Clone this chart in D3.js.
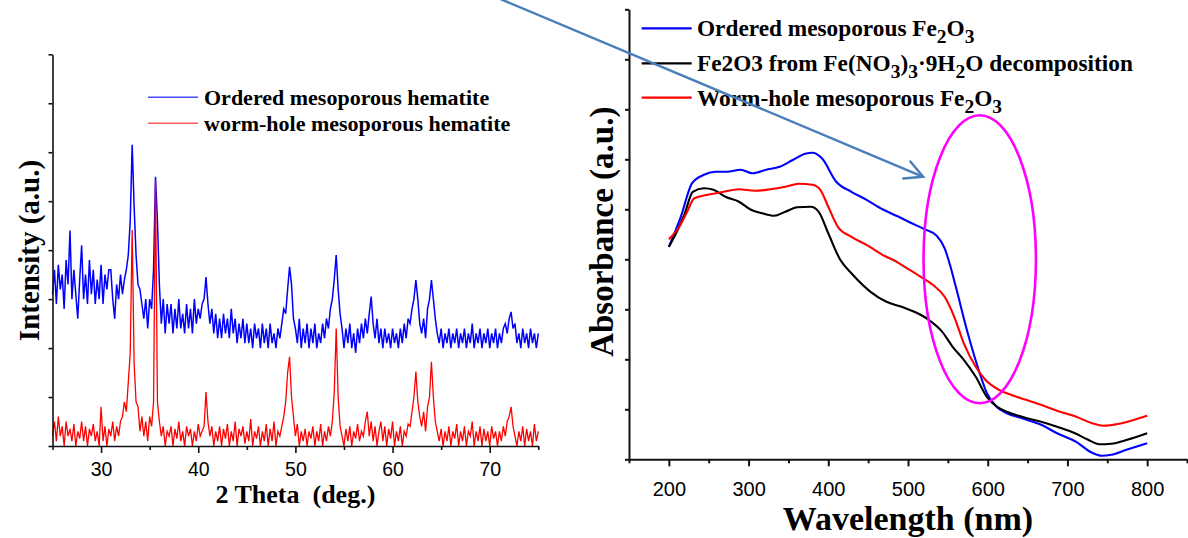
<!DOCTYPE html>
<html><head><meta charset="utf-8">
<script src="https://cdn.jsdelivr.net/npm/d3@7"></script>
<style>body{margin:0;background:#fff;} svg{display:block;}</style>
</head><body>
<svg id="chart" width="1188" height="538"></svg>
<script>
// ---------------- DATA ----------------
// XRD (left panel): 2-theta grid start/step, intensities
const xrdThetaStart = 25, xrdThetaStep = 0.2;
const xrdOrdered = [
 3.1,3.6,2.9,3.7,3.2,3.5,2.8,3.8,3.3,4.4,
 3.0,3.6,3.1,2.6,3.4,4.1,3.0,3.5,2.9,3.8,
 3.1,3.6,2.9,3.4,3.0,3.7,2.9,3.5,3.2,3.6,
 3.6,3.0,2.6,3.3,3.0,3.5,3.1,3.4,3.6,3.9,
 4.6,6.15,4.9,3.9,3.3,3.2,2.9,2.6,3.0,2.4,
 3.0,2.8,3.6,5.5,4.6,3.3,2.5,3.0,2.3,2.9,
 2.5,2.9,2.3,2.8,2.4,3.0,2.4,2.7,2.3,2.9,
 2.4,2.8,2.3,3.0,2.5,2.8,2.6,2.9,3.0,3.45,
 2.9,2.5,2.8,2.3,2.7,2.2,2.6,2.2,2.7,2.3,
 2.6,2.2,2.8,2.3,2.6,2.1,2.5,2.2,2.6,2.1,
 2.5,2.1,2.4,2.0,2.5,2.2,2.4,2.0,2.5,2.1,
 2.4,2.0,2.5,2.1,2.3,2.0,2.4,2.2,2.5,2.8,
 2.7,3.2,3.66,3.3,2.6,2.4,2.1,2.6,2.0,2.4,
 2.1,2.5,2.0,2.4,2.1,2.5,2.0,2.3,2.1,2.5,
 2.2,2.6,2.4,2.8,3.0,3.4,3.9,3.2,2.7,2.4,
 2.0,2.4,2.1,2.5,2.0,2.3,1.9,2.4,2.1,2.5,
 2.2,2.6,2.3,2.7,3.05,2.5,2.2,2.6,2.1,2.4,
 2.0,2.4,2.1,2.3,2.0,2.4,2.1,2.3,2.0,2.4,
 2.1,2.5,2.2,2.6,2.5,2.8,3.0,3.39,3.0,2.5,
 2.3,2.6,2.2,2.8,3.0,3.39,3.0,2.6,2.3,2.1,
 2.4,2.0,2.3,2.1,2.4,2.0,2.3,2.1,2.4,2.0,
 2.3,2.1,2.4,2.0,2.3,2.1,2.5,2.0,2.3,2.1,
 2.4,2.0,2.3,2.1,2.4,2.0,2.3,2.1,2.4,2.0,
 2.3,2.1,2.4,2.5,2.3,2.6,2.74,2.4,2.5,2.1,
 2.3,2.0,2.4,2.1,2.3,2.0,2.4,2.1,2.3,2.0,2.3
];
const xrdWormhole = [
 0.2,0.5,0.1,0.6,0.2,0.4,0.0,0.5,0.2,0.35,
 0.1,0.45,0.0,0.3,0.15,0.5,0.1,0.4,0.0,0.35,
 0.2,0.45,0.1,0.3,0.0,0.8,0.1,0.4,0.0,0.35,
 0.2,0.5,0.1,0.4,0.2,0.5,0.6,0.9,0.7,1.3,
 1.9,4.41,1.7,0.9,0.8,0.3,0.6,0.2,0.5,0.1,
 0.6,0.4,0.9,5.43,0.9,0.5,0.2,0.4,0.0,0.3,
 0.2,0.4,0.0,0.35,0.15,0.5,0.1,0.3,0.0,0.4,
 0.2,0.35,0.0,0.3,0.1,0.45,0.2,0.3,0.4,1.1,
 0.5,0.2,0.4,0.0,0.3,0.1,0.4,0.0,0.35,0.15,
 0.45,0.0,0.3,0.1,0.5,0.0,0.35,0.2,0.4,0.05,
 0.3,0.1,0.55,0.0,0.3,0.15,0.4,0.0,0.3,0.1,
 0.45,0.0,0.35,0.1,0.5,0.0,0.3,0.2,0.4,0.6,
 0.9,1.5,1.82,1.0,0.6,0.2,0.45,0.0,0.3,0.1,
 0.35,0.0,0.3,0.15,0.4,0.0,0.3,0.1,0.45,0.0,
 0.3,0.1,0.4,0.2,0.5,1.1,2.4,1.0,0.4,0.2,
 0.0,0.35,0.1,0.4,0.0,0.3,0.15,0.45,0.1,0.3,
 0.2,0.5,0.7,0.2,0.5,0.1,0.4,0.0,0.3,0.5,
 0.1,0.4,0.0,0.35,0.15,0.5,0.0,0.3,0.1,0.4,
 0.0,0.3,0.2,0.45,0.4,0.7,1.0,1.52,0.9,0.6,
 0.4,0.7,0.3,0.8,1.0,1.72,1.0,0.5,0.3,0.1,
 0.35,0.0,0.3,0.1,0.4,0.0,0.3,0.15,0.45,0.0,
 0.3,0.1,0.4,0.0,0.3,0.2,0.5,0.0,0.3,0.1,
 0.4,0.0,0.35,0.1,0.3,0.0,0.4,0.15,0.3,0.0,
 0.3,0.1,0.4,0.2,0.5,0.6,0.8,0.4,0.2,0.0,
 0.3,0.1,0.4,0.0,0.35,0.1,0.3,0.0,0.45,0.1,0.3
];
const xrdDomain = [25, 75];
const xrdYDomain = [0, 8];
const xrdMajorTicks = [30, 40, 50, 60, 70];
const xrdMinorTicks = [25, 35, 45, 55, 65, 75];
const xrdYTicks = [0, 1, 2, 3, 4, 5, 6, 7, 8];
const xrdLegend = ["Ordered mesoporous hematite", "worm-hole mesoporous hematite"];
const xrdXLabel = "2 Theta  (deg.)";
const xrdYLabel = "Intensity (a.u.)";

// UV-vis (right panel)
const uvOrderedNm  = [200,215,229,244,259,273,290,305,322,339,356,371,380,392,410,429,448,468,487,502,521,536,546,553,560,575,590,599,611,624,643,667,687,711,731,743,755,774,800];
const uvOrderedAbs = [4.25,4.85,5.52,5.69,5.75,5.75,5.79,5.72,5.79,5.85,5.99,6.11,6.13,6.02,5.55,5.35,5.19,5.00,4.86,4.74,4.60,4.47,4.22,3.87,3.45,2.52,1.72,1.32,1.05,0.92,0.82,0.69,0.52,0.35,0.13,0.07,0.09,0.19,0.32];
const uvNitrateNm  = [200,210,220,230,244,256,271,288,303,317,332,346,361,378,388,400,415,429,453,473,492,512,526,543,556,570,585,599,612,624,643,667,687,711,726,740,755,775,800];
const uvNitrateAbs = [4.25,4.55,4.92,5.35,5.42,5.39,5.25,5.15,4.99,4.92,4.87,4.95,5.04,5.05,4.95,4.52,3.99,3.72,3.35,3.15,3.05,2.92,2.79,2.55,2.25,1.99,1.65,1.25,1.05,0.95,0.85,0.75,0.65,0.51,0.39,0.30,0.31,0.39,0.52];
const uvWormNm  = [200,213,222,232,249,269,288,308,327,346,363,380,390,400,412,429,449,468,488,497,517,531,546,558,570,585,597,614,629,648,667,687,711,731,745,765,784,800];
const uvWormAbs = [4.40,4.65,4.92,5.22,5.29,5.35,5.40,5.37,5.40,5.45,5.51,5.49,5.39,5.05,4.65,4.45,4.28,4.09,3.93,3.84,3.64,3.49,3.25,2.85,2.32,1.85,1.59,1.39,1.29,1.19,1.09,0.97,0.85,0.72,0.67,0.71,0.79,0.87];
const uvDomain = [150, 850];
const uvYDomain = [0, 9];
const uvMajorTicks = [200, 300, 400, 500, 600, 700, 800];
const uvMinorTicks = [150, 250, 350, 450, 550, 650, 750, 850];
const uvYTicks = [0, 1, 2, 3, 4, 5, 6, 7, 8, 9];
const uvLegend = [
  [{t:"Ordered mesoporous Fe"},{t:"2",s:1},{t:"O"},{t:"3",s:1}],
  [{t:"Fe2O3 from Fe(NO"},{t:"3",s:1},{t:")"},{t:"3",s:1},{t:"\u00B79H"},{t:"2",s:1},{t:"O decomposition"}],
  [{t:"Worm-hole mesoporous Fe"},{t:"2",s:1},{t:"O"},{t:"3",s:1}]
];
const uvXLabel = "Wavelength (nm)";
const uvYLabel = "Absorbance (a.u.)";
// annotations in UV data coordinates
const ellipseCenter = [590, 4.0], ellipseRadii = [70.5, 2.88];
const arrowFrom = [-18, 9.25], arrowTo = [519, 5.65];

// ---------------- DRAW ----------------
const svg = d3.select("#chart");
const SERIF = "'Liberation Serif','Times New Roman',serif";
const SANS = "'Liberation Sans',Arial,sans-serif";

function drawAxes(g, x, y, major, minor, yt, labelY, fs, axisW) {
  const gx = g.append("g").attr("transform", `translate(0,${y.range()[0]})`)
    .call(d3.axisBottom(x).tickValues(major).tickSize(7).tickSizeOuter(0).tickFormat(d3.format("d")));
  gx.selectAll("text").attr("y", labelY).attr("dy", null)
    .style("font-family", SANS).style("font-size", fs + "px").attr("fill", "#000");
  const gm = g.append("g").attr("transform", `translate(0,${y.range()[0]})`)
    .call(d3.axisBottom(x).tickValues(minor).tickSize(4).tickSizeOuter(0).tickFormat(""));
  gm.select(".domain").remove();
  const gy = g.append("g").attr("transform", `translate(${x.range()[0]},0)`)
    .call(d3.axisLeft(y).tickValues(yt).tickSize(4).tickSizeOuter(0).tickFormat(""));
  [gx, gm, gy].forEach(a => {
    a.selectAll("path,line").attr("stroke", "#111").attr("stroke-width", axisW);
  });
}

// ---- Left panel ----
const xL = d3.scaleLinear().domain(xrdDomain).range([52.5, 538.3]);
const yL = d3.scaleLinear().domain(xrdYDomain).range([446, 54.3]);
const gL = svg.append("g");
const lineL = d3.line().x((d, i) => xL(xrdThetaStart + i * xrdThetaStep)).y(d => yL(d));
gL.append("path").attr("d", lineL(xrdOrdered)).attr("fill", "none").attr("stroke", "#0000ff").attr("stroke-width", 1.5);
gL.append("path").attr("d", lineL(xrdWormhole)).attr("fill", "none").attr("stroke", "#ff0000").attr("stroke-width", 1.3);
drawAxes(gL, xL, yL, xrdMajorTicks, xrdMinorTicks, xrdYTicks, 30.2, 19.5, 1.6);

gL.append("text").attr("x", (xL.range()[0] + xL.range()[1]) / 2).attr("y", 503)
  .attr("text-anchor", "middle").style("font-family", SERIF).style("font-weight", "bold")
  .style("font-size", "26px").style("white-space", "pre").text(xrdXLabel);
gL.append("text").attr("transform", "translate(38.5,250.5) rotate(-90)")
  .attr("text-anchor", "middle").style("font-family", SERIF).style("font-weight", "bold")
  .style("font-size", "29px").text(xrdYLabel);

const legL = gL.append("g");
[["#4a4aff", xrdLegend[0]], ["#ff5a5a", xrdLegend[1]]].forEach((c, i) => {
  const yy = 97.3 + i * 26;
  legL.append("line").attr("x1", 148).attr("x2", 198).attr("y1", yy).attr("y2", yy)
    .attr("stroke", c[0]).attr("stroke-width", 1.6);
  legL.append("text").attr("x", 204).attr("y", yy + 8).style("font-family", SERIF)
    .style("font-weight", "bold").style("font-size", "22px").text(c[1]);
});

// ---- Right panel ----
const xR = d3.scaleLinear().domain(uvDomain).range([629, 1187]);
const yR = d3.scaleLinear().domain(uvYDomain).range([459.3, 9.3]);
const gR = svg.append("g");
const lineR = d3.line().x(d => xR(d[0])).y(d => yR(d[1])).curve(d3.curveMonotoneX);
const uvSeries = [
  [uvOrderedNm, uvOrderedAbs, "#0000ff"],
  [uvNitrateNm, uvNitrateAbs, "#000000"],
  [uvWormNm, uvWormAbs, "#ff0000"]
];
uvSeries.forEach(s => {
  gR.append("path").attr("d", lineR(d3.zip(s[0], s[1]))).attr("fill", "none")
    .attr("stroke", s[2]).attr("stroke-width", 2.1).attr("stroke-linejoin", "round");
});
drawAxes(gR, xR, yR, uvMajorTicks, uvMinorTicks, uvYTicks, 36.7, 20, 2);

gR.append("text").attr("x", (xR.range()[0] + xR.range()[1]) / 2).attr("y", 530)
  .attr("text-anchor", "middle").style("font-family", SERIF).style("font-weight", "bold")
  .style("font-size", "34px").text(uvXLabel);
gR.append("text").attr("transform", "translate(613,231.7) rotate(-90)")
  .attr("text-anchor", "middle").style("font-family", SERIF).style("font-weight", "bold")
  .style("font-size", "33px").text(uvYLabel);

const legR = gR.append("g");
uvSeries.forEach((s, i) => {
  const yy = [28.3, 63.3, 97.7][i];
  legR.append("line").attr("x1", 641.7).attr("x2", 691.7).attr("y1", yy).attr("y2", yy)
    .attr("stroke", s[2]).attr("stroke-width", 2.2);
  const t = legR.append("text").attr("x", 697).attr("y", yy + 8).style("font-family", SERIF)
    .style("font-weight", "bold").style("font-size", "23.3px");
  let shifted = false;
  uvLegend[i].forEach(seg => {
    const ts = t.append("tspan").text(seg.t);
    if (seg.s && !shifted) { ts.attr("dy", 7).style("font-size", "19.5px"); shifted = true; }
    else if (seg.s && shifted) { ts.style("font-size", "19.5px"); }
    else if (!seg.s && shifted) { ts.attr("dy", -7); shifted = false; }
  });
});

// magenta ellipse
gR.append("ellipse").attr("cx", xR(ellipseCenter[0])).attr("cy", yR(ellipseCenter[1]))
  .attr("rx", xR(ellipseCenter[0] + ellipseRadii[0]) - xR(ellipseCenter[0]))
  .attr("ry", yR(ellipseCenter[1]) - yR(ellipseCenter[1] + ellipseRadii[1]))
  .attr("fill", "none").attr("stroke", "#ff00ff").attr("stroke-width", 2.6);

// arrow
const ax1 = xR(arrowFrom[0]), ay1 = yR(arrowFrom[1]), ax2 = xR(arrowTo[0]), ay2 = yR(arrowTo[1]);
const ang = Math.atan2(ay2 - ay1, ax2 - ax1);
const arrowG = svg.append("g").attr("stroke", "#4a7ebb").attr("stroke-width", 2.4)
  .attr("fill", "none").attr("stroke-linecap", "round");
arrowG.append("line").attr("x1", ax1).attr("y1", ay1).attr("x2", ax2).attr("y2", ay2);
const hl = 20, ha = 0.48;
arrowG.append("path").attr("d", `M${ax2 + hl * Math.cos(ang + Math.PI - ha)},${ay2 + hl * Math.sin(ang + Math.PI - ha)}L${ax2},${ay2}L${ax2 + hl * Math.cos(ang + Math.PI + ha)},${ay2 + hl * Math.sin(ang + Math.PI + ha)}`)
  .attr("stroke-linejoin", "miter");
</script>
</body></html>
